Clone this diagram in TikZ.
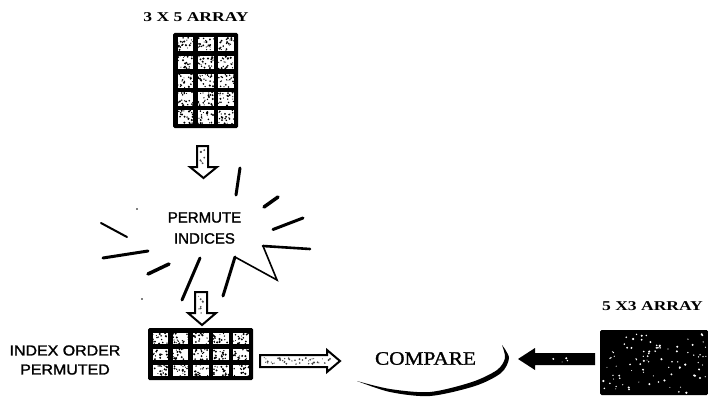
\documentclass[tikz,border=0pt]{standalone}
\usepackage{fontspec}
\setmainfont{Liberation Serif}
\newfontfamily\capsserif[FakeStretch=1.3]{Liberation Serif}
\newfontfamily\wideserif[FakeStretch=1.12,FakeBold=1.2]{Liberation Serif}
\newfontfamily\labelsans[FakeStretch=1.1,FakeBold=1.6]{Liberation Sans}
\newfontfamily\burstsans[FakeBold=1.4]{Liberation Sans}

% scatter #5 random dots of colour #6 inside the box (#1,#2)-(#3,#4)
\newcommand\speckbox[6]{%
  \foreach \k in {1,...,#5}{%
    \pgfmathsetmacro\spx{#1+rnd*(#3-(#1))}%
    \pgfmathsetmacro\spy{#2+rnd*(#4-(#2))}%
    \pgfmathsetmacro\spr{0.5+0.7*rnd}%
    \fill[#6] (\spx,\spy) circle (\spr pt);
  }}

\tikzset{
  heading/.style={font=\capsserif\bfseries\fontsize{13.5}{15}\selectfont, inner sep=0pt},
  sidelabel/.style={font=\labelsans\fontsize{14.5}{19}\selectfont, align=center, inner sep=0pt},
  burstlabel/.style={font=\burstsans\fontsize{15}{21}\selectfont, align=center, inner sep=0pt},
  comparelabel/.style={font=\wideserif\fontsize{19}{22}\selectfont, inner sep=0pt},
  arraybox/.style={fill=black, rounded corners=1.5pt, inner sep=0pt},
  hollowarrow/.style={draw=black, fill=white, line width=2pt, line join=miter},
  ray/.style={line width=3pt, line cap=round},
  thinray/.style={line width=1.6pt, line cap=round, line join=miter},
}

\begin{document}
\begin{tikzpicture}[x=1pt, y=-1pt]
\pgfmathsetseed{4242}
\useasboundingbox[fill=white] (0,0) rectangle (708,401);

% ---------- 3 x 5 array ----------
\node[heading] (toptitle) at (196,17.5) {3 X 5 ARRAY};
\node[arraybox, minimum width=65pt, minimum height=95pt] (toparray) at (205.5,80.5) {};
\foreach \c in {0,1,2}{
  \foreach \r in {0,...,4}{
    \pgfmathsetmacro\cx{177.5+\c*20.3}
    \pgfmathsetmacro\cy{37.5+\r*18.2}
    \fill[white] (\cx,\cy) rectangle ++(15.8,13.7);
    \speckbox{\cx}{\cy}{\cx+15.8}{\cy+13.7}{22}{black}
  }
}

% ---------- arrow into the permutation ----------
\draw[hollowarrow] (197,146) -- (208,146) -- (208,167) -- (217,167)
  -- (203.5,178) -- (190,167) -- (197,167) -- cycle;
\speckbox{200}{150}{206}{168}{8}{black!70}

% ---------- permute burst ----------
\node[burstlabel] (burst) at (204.5,228) {PERMUTE\\INDICES};
\draw[ray] (240,168) -- (236,195);
\draw[ray, line width=3.5pt] (278,197) -- (264,207);
\draw[ray] (303,218) -- (273,229.5);
\draw[thinray] (235,257) -- (277,280) -- (263,246);
\draw[ray, line width=2.6pt] (263,246) -- (310,249);
\draw[ray] (235,257) -- (223,296);
\draw[ray] (200,258) -- (182,300);
\draw[ray, line width=3.5pt] (169,264) -- (148,274);
\draw[ray] (148,251) -- (103,258);
\draw[ray, line width=2pt] (127,237) -- (101,223);
\fill (137,209) circle (0.9pt);
\fill (142,299) circle (0.9pt);

% ---------- arrow out of the permutation ----------
\draw[hollowarrow] (195,292) -- (207,292) -- (207,313) -- (216,313)
  -- (202,325) -- (188,313) -- (195,313) -- cycle;
\speckbox{198}{295}{205}{314}{8}{black!70}

% ---------- permuted array ----------
\node[sidelabel] (permlabel) at (65,360) {INDEX ORDER\\PERMUTED};
\node[arraybox, minimum width=105pt, minimum height=52pt] (permarray) at (200.5,354) {};
\foreach \c in {0,...,4}{
  \foreach \r in {0,1,2}{
    \pgfmathsetmacro\cx{152.5+\c*20.2}
    \pgfmathsetmacro\cy{332.5+\r*16}
    \fill[white] (\cx,\cy) rectangle ++(15.7,11.5);
    \speckbox{\cx}{\cy}{\cx+15.7}{\cy+11.5}{18}{black}
  }
}

% ---------- arrow to compare ----------
\draw[hollowarrow] (260,355) -- (327,355) -- (327,350) -- (340,361)
  -- (327,372) -- (327,367) -- (260,367) -- cycle;
\speckbox{263}{357.5}{330}{364.5}{40}{black!75}

% ---------- compare ----------
\node[comparelabel] (compare) at (425.5,358.5) {COMPARE};
\fill plot[smooth] coordinates {(502,345) (509,358) (501,373) (475,386) (430,396) (390,392) (357,381)}
  -- plot[smooth] coordinates {(357,381) (390,389) (430,392) (472,382) (497,370) (505,358) (502,345)} -- cycle;

% ---------- 5 x 3 array ----------
\node[heading] (righttitle) at (652.5,306) {5 X3 ARRAY};
\node[arraybox, minimum width=108pt, minimum height=65pt] (rightarray) at (654,362.5) {};
\speckbox{603}{333}{706}{393}{90}{white}

% ---------- arrow from the 5 x 3 array ----------
\fill (595,353) -- (535,353) -- (535,348) -- (518,359) -- (535,370)
  -- (535,365) -- (595,365) -- cycle;
\speckbox{545}{356}{575}{362}{4}{white}
\end{tikzpicture}
\end{document}
